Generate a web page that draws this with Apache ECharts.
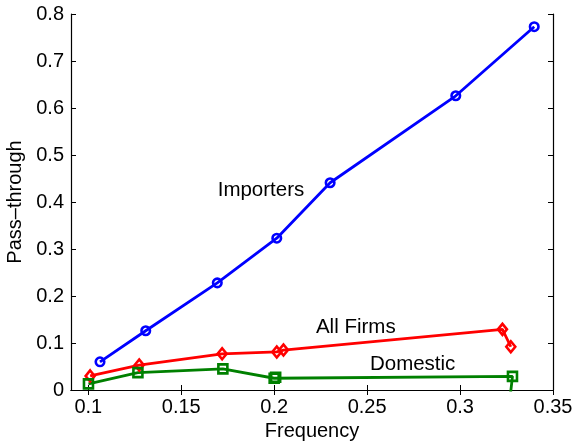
<!DOCTYPE html>
<html>
<head>
<meta charset="utf-8">
<script src="https://cdn.jsdelivr.net/npm/echarts@6/dist/echarts.min.js"></script>
<style>
  html, body { margin: 0; padding: 0; background: #fff; }
  #chart { width: 575px; height: 442px; }
</style>
</head>
<body>
<div id="chart"></div>
<script>
// Pass-through by price-change frequency, three groups of firms
const importersFreq = [0.1063, 0.1309, 0.1694, 0.2014, 0.2301, 0.2977, 0.3399];
const importersPT   = [0.060, 0.126, 0.228, 0.323, 0.441, 0.626, 0.773];

const allFirmsFreq = [0.1010, 0.1274, 0.1720, 0.2014, 0.2050, 0.3228, 0.3273];
const allFirmsPT   = [0.030, 0.053, 0.077, 0.081, 0.085, 0.129, 0.092];

const domesticFreq = [0.1001, 0.1267, 0.1724, 0.2000, 0.2008, 0.3282, 0.3259];
const domesticPT   = [0.013, 0.037, 0.045, 0.025, 0.027, 0.029, -0.050];

const xTicks = [0.1, 0.15, 0.2, 0.25, 0.3, 0.35];

// Text annotations placed in data units
const noteText = ['Importers', 'All Firms', 'Domestic'];
const noteX = [0.1929, 0.2439, 0.2745];
const noteY = [0.4255, 0.134, 0.0553];

const FONT = 'Liberation Sans, Arial, Helvetica, sans-serif';
const zip = (xs, ys) => xs.map((x, i) => [x, ys[i]]);

const chart = echarts.init(document.getElementById('chart'), null, { renderer: 'canvas' });

const tickStyle = { inside: true, length: 5, lineStyle: { color: '#000', width: 1 } };
const lineAx = { show: true, lineStyle: { color: '#000', width: 1.2 } };

function lineSeries(name, xs, ys, color, symbol, size) {
  return {
    name, type: 'line', data: zip(xs, ys),
    xAxisIndex: 0, yAxisIndex: 0,
    symbol, symbolSize: size, showAllSymbol: true,
    clip: true,
    lineStyle: { color, width: 2.8 },
    itemStyle: { color: 'rgba(255,255,255,0)', borderColor: color, borderWidth: 2.6 },
    emphasis: { disabled: true },
    silent: true, animation: false
  };
}

chart.setOption({
  animation: false,
  backgroundColor: '#fff',
  grid: { left: 71, right: 22, top: 14, bottom: 52, outerBoundsMode: 'none', containLabel: false },
  xAxis: [
    {
      type: 'value', position: 'bottom', min: 0.0907, max: 0.35,
      name: 'Frequency', nameLocation: 'middle', nameGap: 30,
      nameTextStyle: { fontFamily: FONT, fontSize: 20, color: '#000' },
      axisLine: lineAx,
      axisTick: Object.assign({ customValues: xTicks }, tickStyle),
      axisLabel: { customValues: xTicks, fontFamily: FONT, fontSize: 20, color: '#000', margin: 7,
                   formatter: v => String(+v.toFixed(2)) },
      splitLine: { show: false }
    },
    {
      type: 'value', position: 'top', min: 0.0907, max: 0.35,
      axisLine: lineAx,
      axisTick: Object.assign({ customValues: xTicks }, tickStyle),
      axisLabel: { show: false },
      splitLine: { show: false }
    }
  ],
  yAxis: [
    {
      type: 'value', position: 'left', min: 0, max: 0.8, interval: 0.1,
      name: 'Pass–through', nameLocation: 'middle', nameGap: 42,
      nameTextStyle: { fontFamily: FONT, fontSize: 20, color: '#000' },
      axisLine: lineAx, axisTick: tickStyle,
      axisLabel: { fontFamily: FONT, fontSize: 20, color: '#000', margin: 7,
                   formatter: v => String(+v.toFixed(1)) },
      splitLine: { show: false }
    },
    {
      type: 'value', position: 'right', min: 0, max: 0.8, interval: 0.1,
      axisLine: lineAx, axisTick: tickStyle,
      axisLabel: { show: false },
      splitLine: { show: false }
    }
  ],
  series: [
    lineSeries('Importers', importersFreq, importersPT, '#0000ff', 'circle', 8.5),
    lineSeries('All Firms', allFirmsFreq, allFirmsPT, '#ff0000', 'diamond', [9, 11]),
    lineSeries('Domestic', domesticFreq, domesticPT, '#008000', 'rect', 9),
    {
      type: 'scatter', xAxisIndex: 0, yAxisIndex: 0,
      data: noteText.map((t, i) => [noteX[i], noteY[i], t]),
      symbolSize: 0, silent: true,
      itemStyle: { opacity: 1 },
      label: {
        show: true, position: [0, 0], align: 'center', verticalAlign: 'middle',
        formatter: p => p.data[2],
        fontFamily: FONT, fontSize: 20.5, color: '#000', opacity: 1
      }
    }
  ]
});
</script>
</body>
</html>
